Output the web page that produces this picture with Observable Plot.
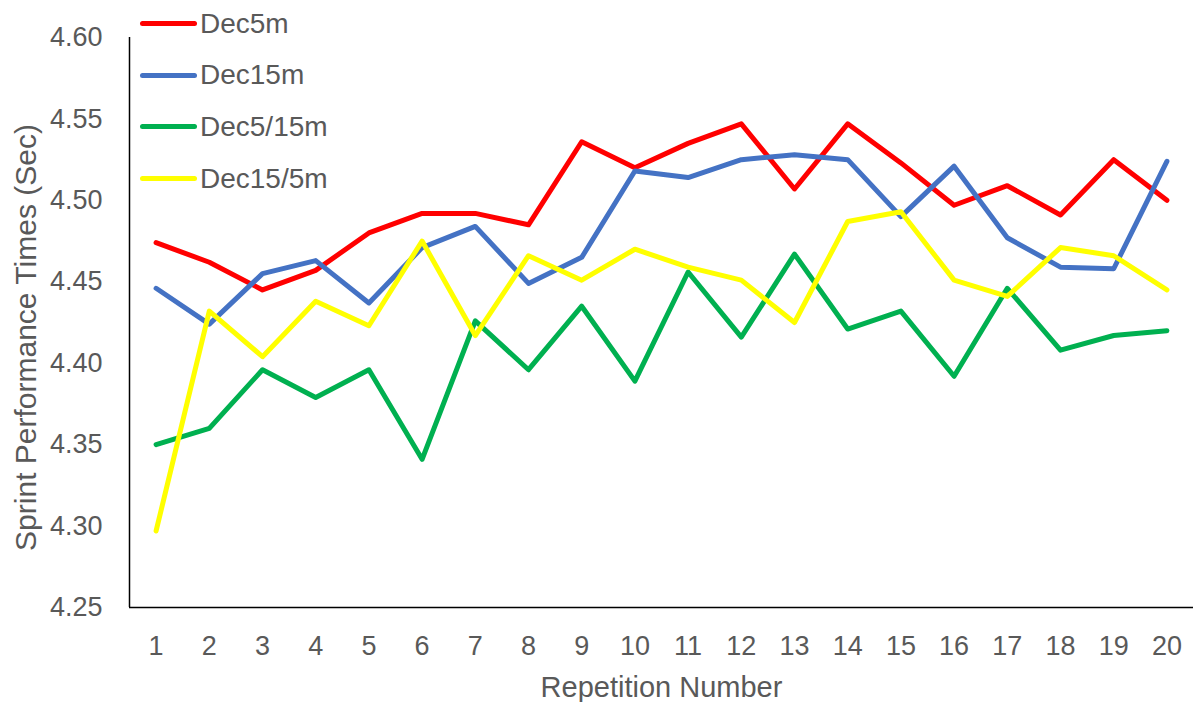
<!DOCTYPE html>
<html>
<head>
<meta charset="utf-8">
<script src="https://cdn.jsdelivr.net/npm/d3@7"></script>
<script src="https://cdn.jsdelivr.net/npm/@observablehq/plot@0.6"></script>
<style>
  html, body { margin: 0; padding: 0; background: #fff; }
  #wrap { position: relative; width: 1193px; height: 702px; font-family: "Liberation Sans", Arial, sans-serif; }
  #legend { position: absolute; left: 140px; top: -2px; }
  .item { display: flex; align-items: center; height: 51.6px; }
  .sw { width: 57px; height: 5px; border-radius: 3px; margin-right: 3px; }
  .lab { font-size: 28px; color: #595959; line-height: 1; }
</style>
</head>
<body>
<div id="wrap"><div id="legend"></div></div>
<script>
const reps = [1,2,3,4,5,6,7,8,9,10,11,12,13,14,15,16,17,18,19,20];
const seriesNames = ["Dec5m", "Dec15m", "Dec5/15m", "Dec15/5m"];
const seriesColors = ["#FF0000", "#4472C4", "#00B050", "#FFFF00"];
const dec5m   = [4.474,4.462,4.445,4.457,4.480,4.492,4.492,4.485,4.536,4.520,4.535,4.547,4.507,4.547,4.523,4.497,4.509,4.491,4.525,4.500];
const dec15m  = [4.446,4.424,4.455,4.463,4.437,4.471,4.484,4.449,4.465,4.518,4.514,4.525,4.528,4.525,4.490,4.521,4.477,4.459,4.458,4.524];
const dec5_15 = [4.350,4.360,4.396,4.379,4.396,4.341,4.426,4.396,4.435,4.389,4.456,4.416,4.467,4.421,4.432,4.392,4.446,4.408,4.417,4.420];
const dec15_5 = [4.297,4.432,4.404,4.438,4.423,4.475,4.417,4.466,4.451,4.470,4.459,4.451,4.425,4.487,4.493,4.451,4.441,4.471,4.466,4.445];
const yTicks = [4.25,4.30,4.35,4.40,4.45,4.50,4.55,4.60];

const allSeries = [dec5m, dec15m, dec5_15, dec15_5];
const table = [];
allSeries.forEach((vals, si) => vals.forEach((v, i) => table.push({rep: reps[i], value: v, series: seriesNames[si]})));

const gray = "#595959";
const chart = Plot.plot({
  width: 1193,
  height: 702,
  marginLeft: 129,
  marginRight: 0,
  marginTop: 37,
  marginBottom: 95,
  style: {fontFamily: "'Liberation Sans', Arial, sans-serif", background: "#fff", color: gray, overflow: "visible"},
  x: {type: "linear", domain: [0.5, 20.5]},
  y: {domain: [4.25, 4.60]},
  color: {domain: seriesNames, range: seriesColors},
  marks: [
    Plot.axisY({ticks: yTicks, tickSize: 0, tickPadding: 27, fontSize: 27, fill: gray,
      tickFormat: d3.format(".2f"), label: null}),
    Plot.axisY({ticks: [], tickSize: 0, fontSize: 30, fill: gray,
      label: "Sprint Performance Times (Sec)", labelAnchor: "center", labelArrow: "none", labelOffset: 115}),
    Plot.axisX({ticks: reps, tickSize: 0, tickPadding: 28, fontSize: 27, fill: gray,
      tickFormat: d => String(d), label: null}),
    Plot.axisX({ticks: [], tickSize: 0, fontSize: 29, fill: gray,
      label: "Repetition Number", labelAnchor: "center", labelArrow: "none", labelOffset: 89}),
    Plot.ruleX([0.5], {stroke: "#000", strokeWidth: 1.5}),
    Plot.ruleY([4.25], {stroke: "#000", strokeWidth: 1.5}),
    ...seriesNames.map(name => Plot.lineY(table.filter(d => d.series === name), {
      x: "rep", y: "value", stroke: "series", strokeWidth: 5, strokeLinejoin: "round", strokeLinecap: "round"
    }))
  ]
});
document.getElementById("wrap").prepend(chart);
// Shift the y-axis title slightly down, as in the reference (keep Plot's own transform)
d3.select(chart).selectAll('g[aria-label="y-axis label"]').each(function() {
  const t = this.getAttribute("transform") || "";
  this.setAttribute("transform", (t + " translate(0,15)").trim());
});

const legend = document.getElementById("legend");
seriesNames.forEach((name, i) => {
  const it = document.createElement("div");
  it.className = "item";
  it.innerHTML = `<div class="sw" style="background:${seriesColors[i]}"></div><span class="lab">${name}</span>`;
  legend.appendChild(it);
});
</script>
</body>
</html>
